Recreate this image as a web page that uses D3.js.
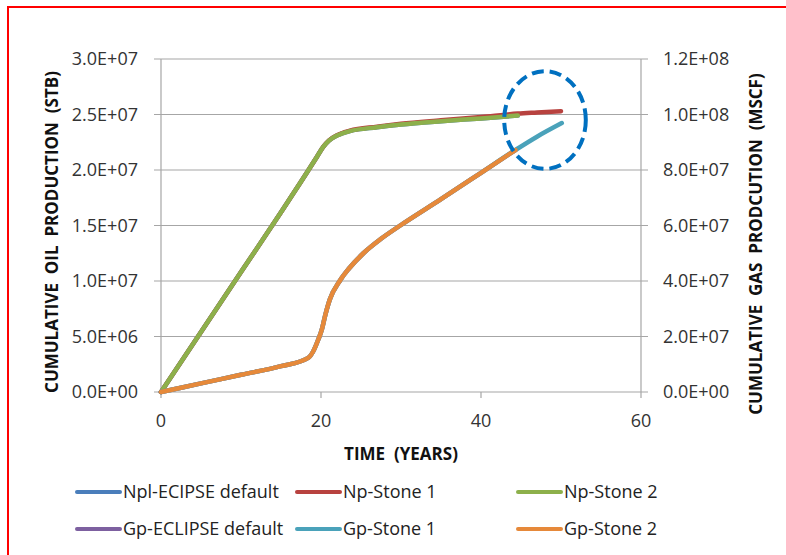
<!DOCTYPE html>
<html>
<head>
<meta charset="utf-8">
<script src="https://cdn.jsdelivr.net/npm/d3@7"></script>
<style>
  body { margin: 0; background: #fff; }
  svg text { font-family: "Open Sans", sans-serif; white-space: pre; }
</style>
</head>
<body>
<svg id="chart" width="786" height="555"></svg>
<script>
// oil (left axis) series
var npTime = [0, 5, 10, 15, 18, 19.5, 20.3, 21, 22, 23.6, 27, 30, 35, 40, 44.6];
var npDefault = [0, 0.54e7, 1.08e7, 1.62e7, 1.95e7, 2.12e7, 2.21e7, 2.265e7, 2.31e7, 2.35e7, 2.385e7, 2.41e7, 2.44e7, 2.465e7, 2.49e7];
var npStone2 = [0, 0.54e7, 1.08e7, 1.62e7, 1.95e7, 2.12e7, 2.21e7, 2.265e7, 2.31e7, 2.35e7, 2.385e7, 2.41e7, 2.44e7, 2.465e7, 2.49e7];
var np1Time = [0, 5, 10, 15, 18, 19.5, 20.3, 21, 22, 23.6, 27, 30, 35, 40, 44.6, 47, 50];
var npStone1 = [0, 0.54e7, 1.08e7, 1.62e7, 1.95e7, 2.12e7, 2.211e7, 2.267e7, 2.313e7, 2.354e7, 2.39e7, 2.416e7, 2.448e7, 2.478e7, 2.508e7, 2.518e7, 2.53e7];

// gas (right axis) series
var gpTime = [0, 5, 10, 15, 18.4, 19.0, 19.66, 20.1, 20.5, 21.1, 22.4, 23.5, 25.3, 27.5, 29.9, 35, 40, 44.3];
var gpDefault = [0, 0.31e7, 0.62e7, 0.93e7, 1.23e7, 1.45e7, 1.89e7, 2.25e7, 2.73e7, 3.33e7, 4.03e7, 4.45e7, 5.0e7, 5.52e7, 6.0e7, 6.95e7, 7.9e7, 8.72e7];
var gpStone2 = [0, 0.31e7, 0.62e7, 0.93e7, 1.23e7, 1.45e7, 1.89e7, 2.25e7, 2.73e7, 3.33e7, 4.03e7, 4.45e7, 5.0e7, 5.52e7, 6.0e7, 6.95e7, 7.9e7, 8.72e7];
var gp1Time = [0, 5, 10, 15, 18.4, 19.0, 19.66, 20.1, 20.5, 21.1, 22.4, 23.5, 25.3, 27.5, 29.9, 35, 40, 44.3, 47, 50.1];
var gpStone1 = [0, 0.31e7, 0.62e7, 0.93e7, 1.23e7, 1.45e7, 1.89e7, 2.25e7, 2.73e7, 3.33e7, 4.03e7, 4.45e7, 5.0e7, 5.52e7, 6.0e7, 6.95e7, 7.9e7, 8.72e7, 9.2e7, 9.69e7];

var xTicks = [0, 20, 40, 60];
var oilTicks = [0, 5e6, 1e7, 1.5e7, 2e7, 2.5e7, 3e7];
var gasTicks = [0, 2e7, 4e7, 6e7, 8e7, 1e8, 1.2e8];

var seriesNames = ["Npl-ECIPSE default", "Np-Stone 1", "Np-Stone 2", "Gp-ECLIPSE default", "Gp-Stone 1", "Gp-Stone 2"];
var seriesColors = ["#4A7EBB", "#B8423F", "#8DB04B", "#7D60A0", "#4AA2BA", "#E6893A"];

// highlight ellipse, in data units (years, STB)
var circleCenter = [48, 2.45e7];
var circleRadius = [5.1, 4.4e6];

var svg = d3.select("#chart");

var plotL = 161, plotR = 641, plotT = 59, plotB = 392;

var x = d3.scaleLinear().domain([0, 60]).range([plotL, plotR]);
var yOil = d3.scaleLinear().domain([0, 3e7]).range([plotB, plotT]);
var yGas = d3.scaleLinear().domain([0, 1.2e8]).range([plotB, plotT]);

svg.append("rect")
    .attr("x", 8).attr("y", 7)
    .attr("width", 820).attr("height", 600)
    .attr("fill", "none")
    .attr("stroke", "#FF0000")
    .attr("stroke-width", 2);

var fmt = function(d) {
    var s = d3.format(".1e")(d).toUpperCase();
    return s.replace(/E([+-])(\d)$/, "E$10$2");
};

// gridlines
svg.append("g").selectAll("line")
    .data(oilTicks)
    .join("line")
    .attr("x1", plotL - 7).attr("x2", plotR + 7)
    .attr("y1", d => yOil(d)).attr("y2", d => yOil(d))
    .attr("stroke", "#A6A6A6").attr("stroke-width", 1.2);

// axes lines
svg.append("line").attr("x1", plotL).attr("x2", plotL).attr("y1", plotT).attr("y2", plotB)
    .attr("stroke", "#A6A6A6").attr("stroke-width", 1.2);
svg.append("line").attr("x1", plotR).attr("x2", plotR).attr("y1", plotT).attr("y2", plotB)
    .attr("stroke", "#A6A6A6").attr("stroke-width", 1.2);

svg.append("g").selectAll("line")
    .data(xTicks)
    .join("line")
    .attr("x1", d => x(d)).attr("x2", d => x(d))
    .attr("y1", plotB).attr("y2", plotB + 6)
    .attr("stroke", "#A6A6A6").attr("stroke-width", 1.2);

// tick labels
svg.append("g").selectAll("text")
    .data(oilTicks)
    .join("text")
    .attr("x", 138).attr("y", d => yOil(d))
    .attr("dy", "0.35em")
    .attr("text-anchor", "end")
    .attr("font-size", 18).attr("fill", "#333")
    .text(fmt);

svg.append("g").selectAll("text")
    .data(gasTicks)
    .join("text")
    .attr("x", 663).attr("y", d => yGas(d))
    .attr("dy", "0.35em")
    .attr("font-size", 18).attr("fill", "#333")
    .text(fmt);

svg.append("g").selectAll("text")
    .data(xTicks)
    .join("text")
    .attr("x", d => x(d)).attr("y", 421)
    .attr("dy", "0.35em")
    .attr("text-anchor", "middle")
    .attr("font-size", 18).attr("fill", "#333")
    .text(d => d);

// axis titles
svg.append("text")
    .attr("transform", "translate(52,232) rotate(-90)")
    .attr("dy", "0.35em")
    .attr("text-anchor", "middle")
    .attr("font-size", 17).attr("font-weight", "bold").attr("fill", "#111")
    .text("CUMULATIVE  OIL  PRODUCTION  (STB)");

svg.append("text")
    .attr("transform", "translate(756,244) rotate(-90)")
    .attr("dy", "0.35em")
    .attr("text-anchor", "middle")
    .attr("font-size", 17).attr("font-weight", "bold").attr("fill", "#111")
    .text("CUMULATIVE  GAS  PRODCUTION  (MSCF)");

svg.append("text")
    .attr("x", 401).attr("y", 454)
    .attr("dy", "0.35em")
    .attr("text-anchor", "middle")
    .attr("font-size", 17).attr("font-weight", "bold").attr("fill", "#111")
    .text("TIME  (YEARS)");

// series
var series = [
    {t: npTime, v: npDefault, y: yOil},
    {t: np1Time, v: npStone1, y: yOil},
    {t: npTime, v: npStone2, y: yOil},
    {t: gpTime, v: gpDefault, y: yGas},
    {t: gp1Time, v: gpStone1, y: yGas},
    {t: gpTime, v: gpStone2, y: yGas}
];

series.forEach(function(s, i) {
    var line = d3.line()
        .x(d => x(d[0]))
        .y(d => s.y(d[1]))
        .curve(d3.curveMonotoneX);
    svg.append("path")
        .datum(s.t.map((t, j) => [t, s.v[j]]))
        .attr("d", line)
        .attr("fill", "none")
        .attr("stroke", seriesColors[i])
        .attr("stroke-width", 4.5)
        .attr("stroke-linecap", "round")
        .attr("stroke-linejoin", "round");
});

// dashed highlight
svg.append("ellipse")
    .attr("cx", x(circleCenter[0]))
    .attr("cy", yOil(circleCenter[1]))
    .attr("rx", x(circleRadius[0]) - x(0))
    .attr("ry", yOil(0) - yOil(circleRadius[1]))
    .attr("fill", "none")
    .attr("stroke", "#0070C0")
    .attr("stroke-width", 4)
    .attr("stroke-dasharray", "12,6");

// legend
var legendX = [77, 297, 518];
var legendY = [492, 529];
var legend = svg.append("g").selectAll("g")
    .data(seriesNames)
    .join("g")
    .attr("transform", (d, i) => "translate(" + legendX[i % 3] + "," + legendY[Math.floor(i / 3)] + ")");

legend.append("line")
    .attr("x1", 0).attr("x2", 43)
    .attr("stroke", (d, i) => seriesColors[i])
    .attr("stroke-width", 4)
    .attr("stroke-linecap", "round");

legend.append("text")
    .attr("x", 46)
    .attr("dy", "0.35em")
    .attr("font-size", 18).attr("fill", "#222")
    .text(d => d);
</script>
</body>
</html>
